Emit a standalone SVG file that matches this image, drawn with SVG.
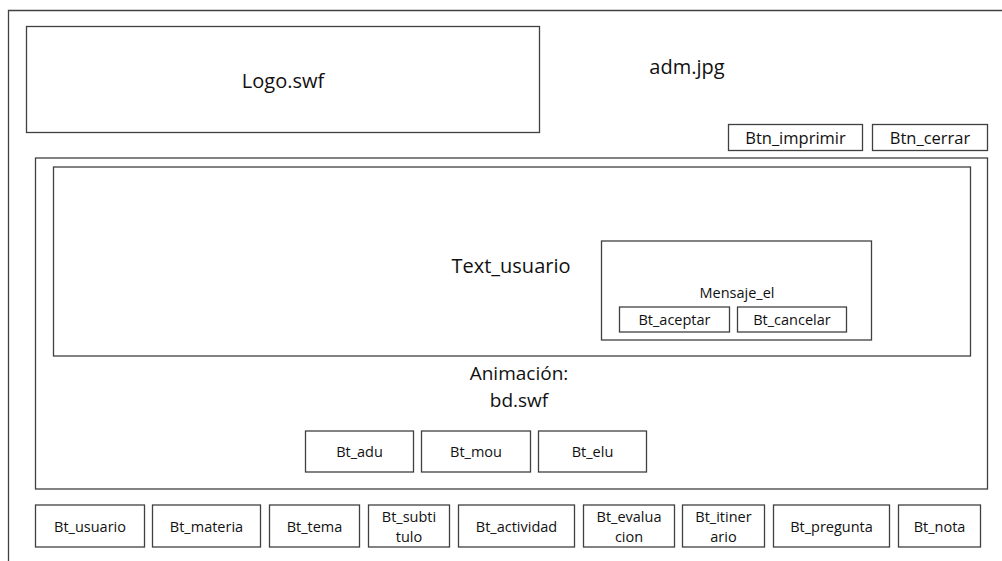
<svg xmlns="http://www.w3.org/2000/svg" width="1002" height="561" viewBox="0 0 1002 561">
<style>
rect{fill:#fff;stroke:#404040;stroke-width:1.3}
text{font-family:"Open Sans","Noto Sans",sans-serif;fill:#111;text-anchor:middle;dominant-baseline:central}
.l{font-size:20px}
.a{font-size:19px}
.m{font-size:16.5px}
.s{font-size:14.5px}
</style>
<rect width="1002" height="561" style="fill:#fff;stroke:none"/>
<g id="frame"><path d="M8.5 561V10.5H1002" fill="none" stroke="#404040" stroke-width="1.3"/></g>
<g id="logo"><rect x="26.5" y="26.5" width="513" height="106"/><text class="l" x="283" y="80">Logo.swf</text></g>
<g id="adm"><text class="l" x="687" y="66">adm.jpg</text></g>
<g id="btn_imprimir"><rect x="728.5" y="124.5" width="134" height="26"/><text class="m" x="795.5" y="137.5">Btn_imprimir</text></g>
<g id="btn_cerrar"><rect x="872.5" y="124.5" width="115" height="26"/><text class="m" x="930" y="137.5">Btn_cerrar</text></g>
<g id="main"><rect x="35.5" y="158" width="952" height="331"/>
<text class="a" x="519" y="373">Animación:</text><text class="a" x="519" y="400">bd.swf</text></g>
<g id="text_usuario"><rect x="53.5" y="167" width="917" height="189"/><text class="l" x="511" y="265">Text_usuario</text></g>
<g id="mensaje_el"><rect x="601.5" y="241" width="270" height="99"/><text class="s" x="737" y="292">Mensaje_el</text></g>
<g id="bt_aceptar"><rect x="619.5" y="307" width="110" height="25"/><text class="s" x="674.5" y="319.5">Bt_aceptar</text></g>
<g id="bt_cancelar"><rect x="737.5" y="307" width="109" height="25"/><text class="s" x="792" y="319.5">Bt_cancelar</text></g>
<g id="bt_adu"><rect x="305.5" y="431" width="108" height="41"/><text class="s" x="359.5" y="451.5">Bt_adu</text></g>
<g id="bt_mou"><rect x="421.5" y="431" width="109" height="41"/><text class="s" x="476" y="451.5">Bt_mou</text></g>
<g id="bt_elu"><rect x="538.5" y="431" width="108" height="41"/><text class="s" x="592.5" y="451.5">Bt_elu</text></g>
<g id="bt_usuario"><rect x="35.5" y="505" width="109" height="42"/><text class="s" x="90" y="526">Bt_usuario</text></g>
<g id="bt_materia"><rect x="152.5" y="505" width="108" height="42"/><text class="s" x="206.5" y="526">Bt_materia</text></g>
<g id="bt_tema"><rect x="269.5" y="505" width="90" height="42"/><text class="s" x="314.5" y="526">Bt_tema</text></g>
<g id="bt_subtitulo"><rect x="368.5" y="505" width="81" height="42"/><text class="s" x="409" y="516">Bt_subti</text><text class="s" x="409" y="536">tulo</text></g>
<g id="bt_actividad"><rect x="458.5" y="505" width="116" height="42"/><text class="s" x="516.5" y="526">Bt_actividad</text></g>
<g id="bt_evaluacion"><rect x="583.5" y="505" width="91" height="42"/><text class="s" x="629" y="516">Bt_evalua</text><text class="s" x="629" y="536">cion</text></g>
<g id="bt_itinerario"><rect x="682.5" y="505" width="82" height="42"/><text class="s" x="723.5" y="516">Bt_itiner</text><text class="s" x="723.5" y="536">ario</text></g>
<g id="bt_pregunta"><rect x="773.5" y="505" width="116" height="42"/><text class="s" x="831.5" y="526">Bt_pregunta</text></g>
<g id="bt_nota"><rect x="898.5" y="505" width="82" height="42"/><text class="s" x="939.5" y="526">Bt_nota</text></g>
<g id="connectors"></g>
</svg>
